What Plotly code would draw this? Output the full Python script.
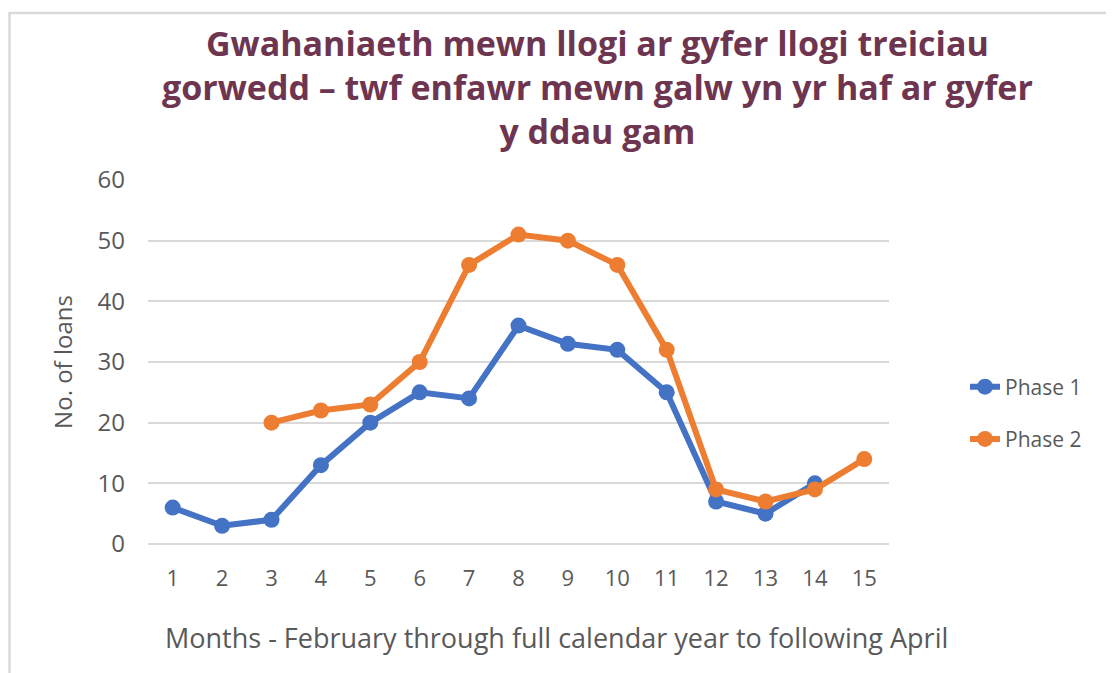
import plotly.graph_objects as go

months = list(range(1, 16))
phase1 = [6, 3, 4, 13, 20, 25, 24, 36, 33, 32, 25, 7, 5, 10, None]
phase2 = [None, None, 20, 22, 23, 30, 46, 51, 50, 46, 32, 9, 7, 9, 14]
y_ticks = [0, 10, 20, 30, 40, 50, 60]

title_text = ("Gwahaniaeth mewn llogi ar gyfer llogi treiciau<br>"
              "gorwedd – twf enfawr mewn galw yn yr haf ar gyfer<br>"
              "y ddau gam")
x_title = "Months - February through full calendar year to following April"

W, H = 1114, 673
OFF = 8  # page offset of figure
ml, mt = 148 - OFF, 180 - OFF
mr = W - (889 - OFF)
mb = H - (544 - OFF)
pw, ph = W - ml - mr, H - mt - mb


def px_x(p):
    return ((p - OFF) - ml) / pw


def px_y(p):
    return (H - mb - (p - OFF)) / ph


fig = go.Figure()
fig.add_trace(go.Scatter(x=months, y=phase1, name="Phase 1", mode="lines+markers",
                         line=dict(color="#4472C4", width=6),
                         marker=dict(color="#4472C4", size=16),
                         legendgroup="a"))
fig.add_trace(go.Scatter(x=months, y=phase2, name="Phase 2", mode="lines+markers",
                         line=dict(color="#ED7D31", width=6),
                         marker=dict(color="#ED7D31", size=16),
                         legendgroup="b"))

# border
fig.add_shape(type="rect", xref="paper", yref="paper",
              x0=px_x(9.5), x1=px_x(1140),
              y0=px_y(700), y1=px_y(13),
              line=dict(color="#d9d9d9", width=2.5), fillcolor="rgba(0,0,0,0)", layer="above")

fig.add_annotation(text=title_text, xref="paper", yref="paper",
                   x=px_x(597), y=px_y(87), xanchor="center", yanchor="middle",
                   showarrow=False, align="center",
                   font=dict(family="Open Sans", size=34, color="#6E3550", weight="bold"))

fig.add_annotation(text=x_title, xref="paper", yref="paper",
                   x=px_x(556), y=px_y(637), xanchor="center", yanchor="middle",
                   showarrow=False,
                   font=dict(family="Open Sans", size=27, color="#595959"))

fig.update_layout(
    width=W, height=H,
    margin=dict(l=ml, r=mr, t=mt, b=mb),
    paper_bgcolor="white", plot_bgcolor="white",
    xaxis=dict(range=[0.5, 15.5], tickvals=months, ticktext=[str(m) for m in months],
               showgrid=False, zeroline=False, showline=False, ticks="",
               ticklabelstandoff=19,
               tickfont=dict(family="Open Sans", size=22, color="#595959")),
    yaxis=dict(range=[0, 60], tickvals=y_ticks, showgrid=True, gridcolor="#d9d9d9", gridwidth=2,
               zeroline=True, zerolinecolor="#d9d9d9", zerolinewidth=2, showline=False, ticks="",
               ticklabelstandoff=22,
               tickfont=dict(family="Open Sans", size=24, color="#595959"),
               title=dict(text="No. of loans",
                          font=dict(family="Open Sans", size=24, color="#595959"),
                          standoff=18)),
    legend=dict(x=957 / W, xref="container", y=px_y(413), yanchor="middle", xanchor="left",
                font=dict(family="Open Sans", size=21, color="#595959"),
                tracegroupgap=22, bgcolor="rgba(0,0,0,0)"),
    showlegend=True,
)

fig.write_html("out.html")
